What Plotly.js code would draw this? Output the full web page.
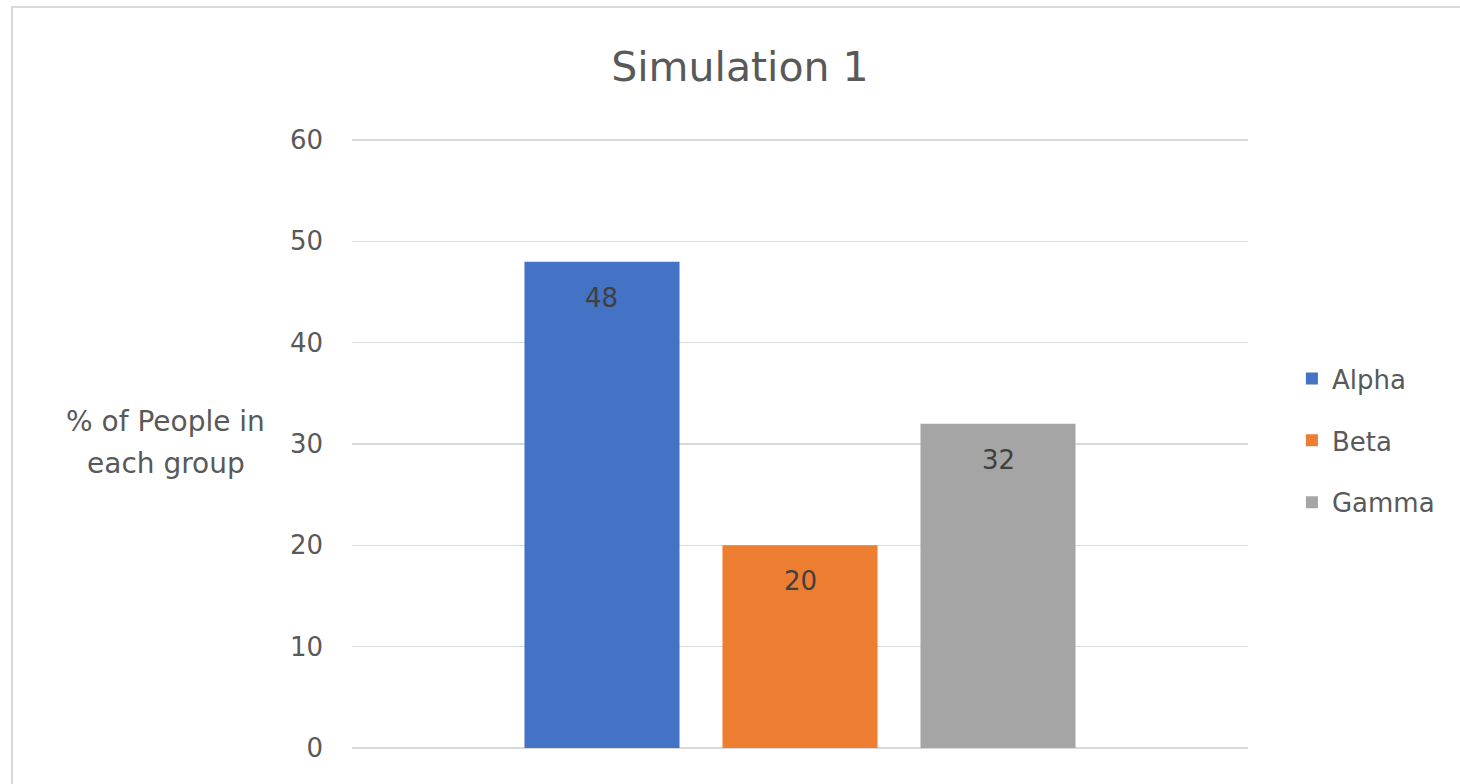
<!DOCTYPE html>
<html>
<head>
<meta charset="utf-8">
<script src="https://cdn.plot.ly/plotly-3.0.1.min.js"></script>
<style>
  html, body { margin: 0; padding: 0; width: 1460px; height: 784px; overflow: hidden; background: #ffffff; }
  #frame { position: absolute; left: 11px; top: 6px; width: 1500px; height: 820px; border: 2px solid #d9d9d9; box-sizing: border-box; }
  #chart { position: absolute; left: 0; top: 0; width: 1460px; height: 784px; }
</style>
</head>
<body>
<div id="frame"></div>
<div id="chart"></div>
<script>
const chartTitle = 'Simulation 1';
const yAxisTitleLines = ['% of People in', 'each group'];
const groups = ['Alpha', 'Beta', 'Gamma'];
const values = [48, 20, 32];
const colors = ['#4472C4', '#ED7D31', '#A5A5A5'];
const yTicks = [0, 10, 20, 30, 40, 50, 60];

const FONT = '"DejaVu Sans", "Open Sans", sans-serif';

const traces = groups.map((g, i) => ({
  type: 'bar',
  name: g,
  legendgroup: g,
  x: [g],
  y: [values[i]],
  marker: { color: colors[i] },
  hoverinfo: 'none'
}));

const annotations = groups.map((g, i) => ({
  x: g, y: values[i], xref: 'x', yref: 'y',
  text: String(values[i]),
  showarrow: false,
  yanchor: 'middle',
  yshift: -36,
  font: { family: FONT, size: 26, color: '#404040' }
}));

annotations.push(
  { xref: 'paper', yref: 'paper', x: -0.2076, y: 0.5345, text: yAxisTitleLines[0], showarrow: false,
    xanchor: 'center', yanchor: 'middle', font: { family: FONT, size: 28, color: '#595959' } },
  { xref: 'paper', yref: 'paper', x: -0.2076, y: 0.4655, text: yAxisTitleLines[1], showarrow: false,
    xanchor: 'center', yanchor: 'middle', font: { family: FONT, size: 28, color: '#595959' } }
);

const layout = {
  width: 1460, height: 784,
  paper_bgcolor: 'rgba(0,0,0,0)',
  plot_bgcolor: 'rgba(0,0,0,0)',
  margin: { l: 352, r: 212, t: 137, b: 36, pad: 0 },
  title: {
    text: chartTitle,
    xref: 'container', yref: 'container',
    x: 0.5068, y: 0.9145, xanchor: 'center', yanchor: 'middle',
    font: { family: FONT, size: 41, color: '#595959' }
  },
  barmode: 'overlay',
  bargap: 0.217,
  xaxis: {
    type: 'category',
    categoryorder: 'array', categoryarray: groups,
    range: [-1.2625, 3.2625],
    showticklabels: false, showgrid: false, zeroline: false, showline: false, ticks: '',
    fixedrange: true
  },
  yaxis: {
    range: [0, 60.3],
    tickvals: yTicks,
    ticktext: yTicks.map(String),
    showgrid: true, gridcolor: '#d9d9d9', gridwidth: 1.5,
    zeroline: true, zerolinecolor: '#d9d9d9', zerolinewidth: 1.5,
    showline: false, ticks: '',
    ticklabelstandoff: 28,
    tickfont: { family: FONT, size: 26, color: '#595959' },
    fixedrange: true
  },
  showlegend: true,
  legend: {
    x: 1.049, xanchor: 'left',
    y: 0.503, yanchor: 'middle',
    tracegroupgap: 25,
    font: { family: FONT, size: 26, color: '#595959' },
    bgcolor: 'rgba(0,0,0,0)'
  },
  annotations: annotations
};

Plotly.newPlot('chart', traces, layout, { staticPlot: true, displayModeBar: false });
</script>
</body>
</html>
